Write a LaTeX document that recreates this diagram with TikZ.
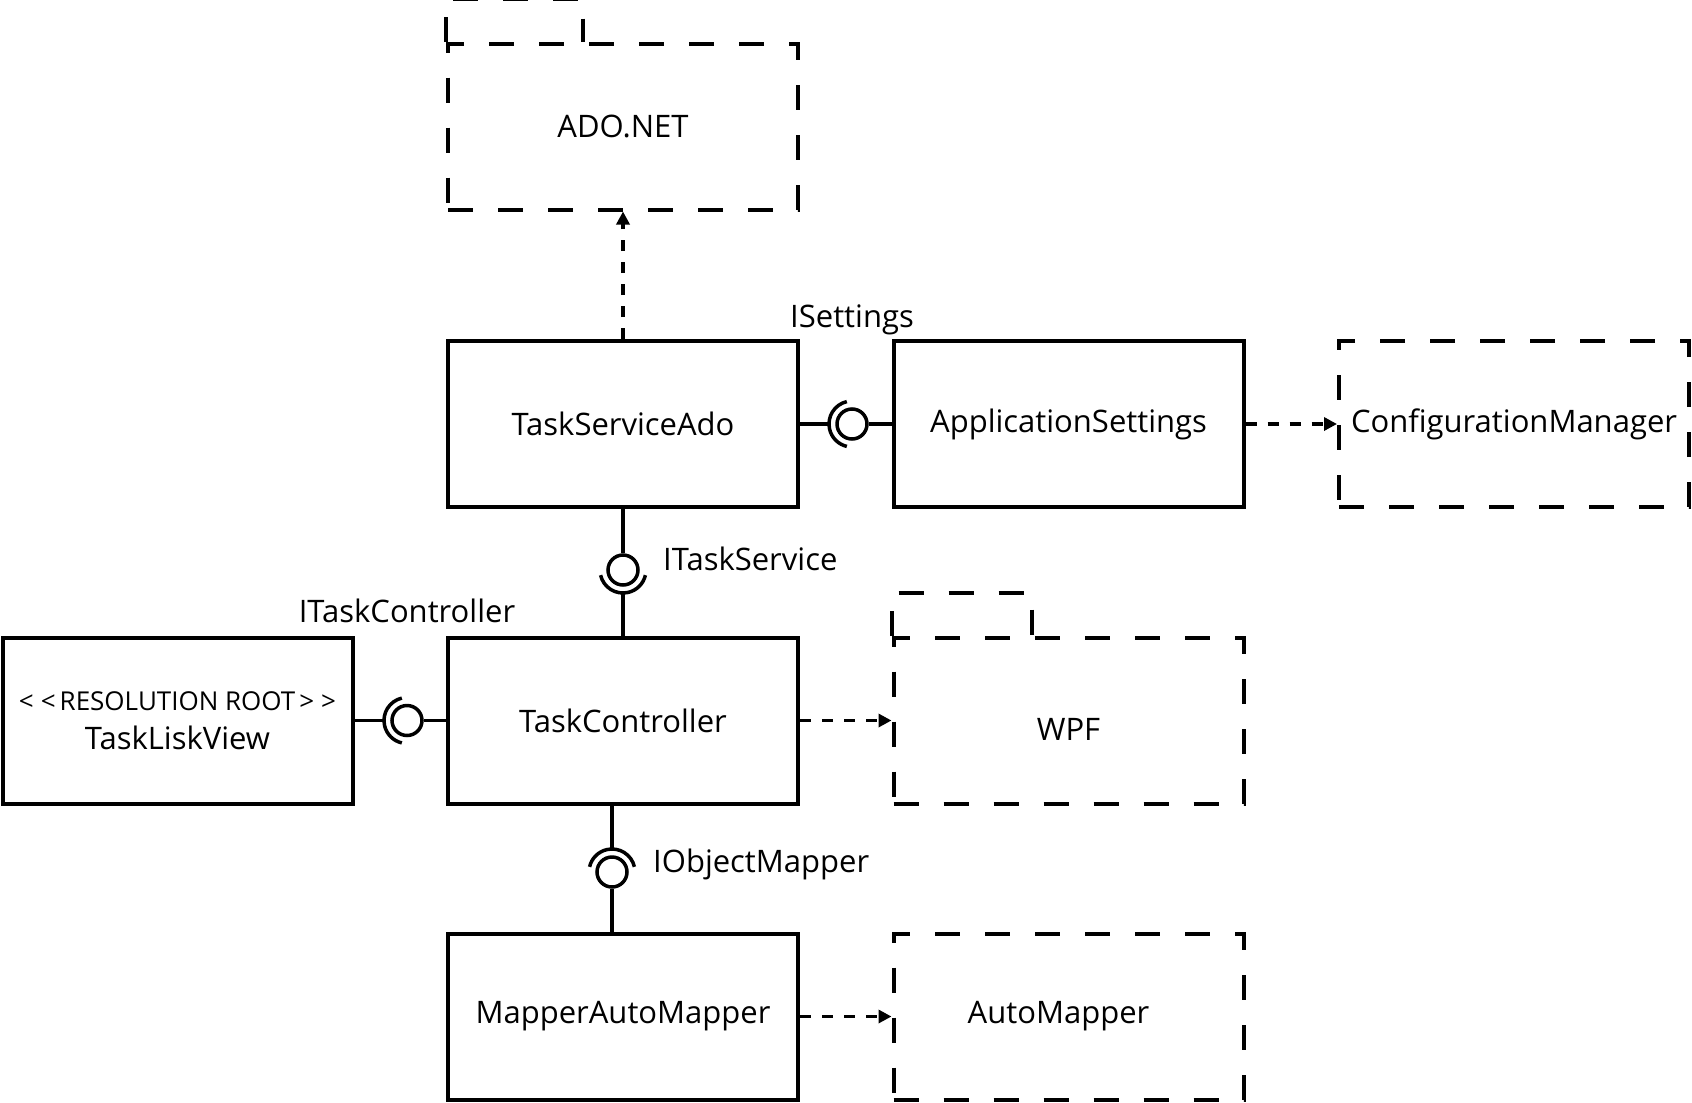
\documentclass[tikz,border=0pt]{standalone}
\usepackage{fontspec}
\setmainfont{Open Sans}
\usetikzlibrary{arrows.meta}
\newcommand{\lbl}{\fontsize{31}{37}\selectfont}
\newcommand{\stereo}{\fontsize{26}{31}\selectfont}
\tikzset{
	comp/.style={draw, line width=4pt, minimum width=350pt, minimum height=166pt, inner sep=0pt, font=\lbl},
	pkg/.style={comp, dash pattern=on 25pt off 25pt},
	pkgline/.style={line width=4pt, dash pattern=on 25pt off 25pt},
	ball/.style={draw, circle, line width=3.5pt, minimum size=30pt, inner sep=0pt},
	lnk/.style={line width=3.5pt},
	dep/.style={line width=3.5pt, dash pattern=on 11pt off 11pt, -{Triangle[length=13pt,width=13pt]}},
	iface/.style={font=\lbl, inner sep=0pt}
}
\begin{document}
\begin{tikzpicture}[x=1pt, y=-1pt]
				\useasboundingbox (0,0) rectangle (1692,1103);
				% composants
				\node[pkg] (ado) at (623,126.5) {ADO.NET};
				\node[comp] (tsa) at (623,424) {TaskServiceAdo};
				\node[comp] (aps) at (1068.5,424) {ApplicationSettings};
				\node[pkg] (cfg) at (1514,424) {ConfigurationManager};
				\node[comp, align=center] (tlv) at (177.5,720.5) {{\stereo\textless\kern7pt\textless\kern4pt RESOLUTION ROOT\kern4pt\textgreater\kern7pt\textgreater}\\[2pt]TaskLiskView};
				\node[comp] (tc) at (623,720.5) {TaskController};
				\node[pkg] (wpf) at (1068.5,720.5) {\rule{0pt}{40pt}WPF};
				\node[comp] (mam) at (623,1016.5) {MapperAutoMapper};
				\node[pkg] (am) at (1068.5,1016.5) {AutoMapper\kern20pt};
				% onglets des paquets
				\draw[pkgline] (ado.north west) -- ++(0,-43) -- ++(137,0) -- ++(0,43);
				\draw[pkgline] (wpf.north west) -- ++(0,-43) -- ++(140,0) -- ++(0,43);
				% dependances
				\draw[dep] (tsa.north) -- (ado.south);
				\draw[dep] (aps.east) -- (cfg.west);
				\draw[dep] (tc.east) -- (wpf.west);
				\draw[dep] (mam.east) -- (am.west);
				% interfaces
				\node[ball] (sb) at (852,424) {};
				\node[ball] (tb) at (623,570) {};
				\node[ball] (cb) at (407,720.5) {};
				\node[ball] (mb) at (612,872) {};
				\coordinate (sbs) at ([shift={(180:23pt)}]sb.center);
				\coordinate (tbs) at ([shift={(270:23pt)}]tb.center);
				\coordinate (cbs) at ([shift={(180:23pt)}]cb.center);
				\coordinate (mbs) at ([shift={(90:23pt)}]mb.center);
				\draw[lnk] ([shift={(103:23pt)}]sb.center) arc[start angle=103, end angle=257, radius=23pt];
				\draw[lnk] ([shift={(193:23pt)}]tb.center) arc[start angle=193, end angle=347, radius=23pt];
				\draw[lnk] ([shift={(103:23pt)}]cb.center) arc[start angle=103, end angle=257, radius=23pt];
				\draw[lnk] ([shift={(13:23pt)}]mb.center) arc[start angle=13, end angle=167, radius=23pt];
				\draw[lnk] (tsa.east) -- (sbs);
				\draw[lnk] (sb) -- (aps.west);
				\draw[lnk] (tsa.south) -- (tb);
				\draw[lnk] (tbs) -- (tc.north);
				\draw[lnk] (tlv.east) -- (cbs);
				\draw[lnk] (cb) -- (tc.west);
				\draw[lnk] (tc.south -| mb) -- (mbs);
				\draw[lnk] (mb) -- (mb |- mam.north);
				% noms des interfaces
				\node[iface, anchor=base] (sbl) at ([yshift=97pt]sb.center) {ISettings};
				\node[iface, anchor=base west] (tbl) at ([xshift=40pt]tb.center) {ITaskService};
				\node[iface, anchor=base] (cbl) at ([yshift=98pt]cb.center) {ITaskController};
				\node[iface, anchor=base west] (mbl) at ([xshift=41pt]mb.center) {IObjectMapper};
\end{tikzpicture}
\end{document}
